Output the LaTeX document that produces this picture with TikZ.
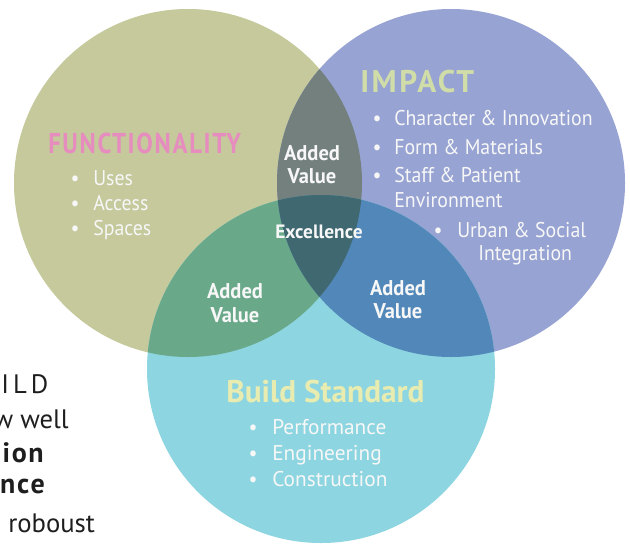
\documentclass[tikz,border=0pt]{standalone}
\usepackage{fontspec}
\setmainfont{PT Sans}
\newfontfamily\cond[FakeStretch=0.86]{PT Sans}
\newfontfamily\condb[FakeStretch=0.93]{PT Sans}
\newfontfamily\condc[FakeStretch=0.96]{PT Sans}
\definecolor{cL}{HTML}{C5C99C}
\definecolor{cR}{HTML}{97A3D2}
\definecolor{cB}{HTML}{8DD5E0}
\definecolor{cLR}{HTML}{73807E}
\definecolor{cLB}{HTML}{6AA88A}
\definecolor{cRB}{HTML}{5188B9}
\definecolor{cLRB}{HTML}{406870}
\definecolor{hPink}{HTML}{E68CBE}
\definecolor{hGreen}{HTML}{D0DDA8}
\definecolor{hYellow}{HTML}{E8ECB0}
\definecolor{txtW}{HTML}{F7F7F7}
\definecolor{side}{HTML}{1E1E1E}
\tikzset{
  item/.style={anchor=base west, inner sep=0pt, text=txtW, font=\condb\fontsize{16}{18}\selectfont},
  bul/.style={anchor=base, inner sep=0pt, text=txtW, font=\condb\fontsize{16}{18}\selectfont},
  head/.style={anchor=base west, inner sep=0pt, font=\bfseries\fontsize{23.5}{26}\selectfont},
  av/.style={anchor=base, inner sep=0pt, text=txtW, font=\condc\bfseries\fontsize{16}{18}\selectfont},
  sidetxt/.style={inner sep=0pt, text=side, font=\fontsize{20}{22}\selectfont},
  sidebold/.style={inner sep=0pt, text=side, font=\bfseries\fontsize{21}{24}\selectfont\addfontfeatures{LetterSpace=6}}
}
\begin{document}
\begin{tikzpicture}[x=0.75pt,y=-0.75pt]
\useasboundingbox (0,0) rectangle (630,543);
\clip (0,0) rectangle (630,543);
\fill[white] (0,0) rectangle (630,543);
% circles
\coordinate (CL) at (188,183);
\coordinate (CR) at (451,183);
\coordinate (CB) at (321,369);
\fill[cL] (CL) circle[radius=130.5pt];
\fill[cR] (CR) circle[radius=130.5pt];
\fill[cB] (CB) circle[radius=130.5pt];
\begin{scope}
  \clip (CL) circle[radius=130.5pt];
  \fill[cLR] (CR) circle[radius=130.5pt];
  \fill[cLB] (CB) circle[radius=130.5pt];
\end{scope}
\begin{scope}
  \clip (CR) circle[radius=130.5pt];
  \fill[cRB] (CB) circle[radius=130.5pt];
  \clip (CL) circle[radius=130.5pt];
  \fill[cLRB] (CB) circle[radius=130.5pt];
\end{scope}
% side text (cut off at the left, as in the source page)
\node[sidetxt, anchor=base west, font=\fontsize{20}{22}\selectfont\addfontfeatures{LetterSpace=15}] (s1) at (1,393) {ILD};
\node[sidetxt, anchor=base east] (s2) at (69,428) {w well};
\node[sidebold, anchor=base east] (s3) at (44,462) {ion};
\node[sidebold, anchor=base east] (s4) at (45,493) {nce};
\node[sidetxt, anchor=base west] (s5) at (8,532) {roboust};
% FUNCTIONALITY
\node[head, text=hPink, font=\cond\bfseries\fontsize{21.5}{24}\selectfont\addfontfeatures{LetterSpace=6}] (hF) at (48,153) {FUNCTIONALITY};
\node[bul] (bF1) at (75,185) {•}; \node[item] (F1) at (93,185) {Uses};
\node[bul] (bF2) at (75,210) {•}; \node[item] (F2) at (93,210) {Access};
\node[bul] (bF3) at (75,235) {•}; \node[item] (F3) at (93,235) {Spaces};
% IMPACT
\node[head, text=hGreen, font=\bfseries\fontsize{23.5}{26}\selectfont\addfontfeatures{LetterSpace=8}] (hI) at (360,92) {IMPACT};
\node[bul] (bI1) at (377,125) {•}; \node[item] (I1) at (394,125) {Character \& Innovation};
\node[bul] (bI2) at (377,154) {•}; \node[item] (I2) at (394,154) {Form \& Materials};
\node[bul] (bI3) at (377,182) {•}; \node[item] (I3) at (394,182) {Staff \& Patient};
\node[item] (I3b) at (394,207) {Environment};
\node[bul] (bI4) at (438,237) {•}; \node[item] (I4) at (457,237) {Urban \& Social};
\node[item] (I4b) at (478,260) {Integration};
% Build Standard
\node[head, text=hYellow] (hB) at (226,402) {Build Standard};
\node[bul] (bB1) at (253,434) {•}; \node[item, font=\fontsize{16}{18}\selectfont] (B1) at (272,434) {Performance};
\node[bul] (bB2) at (253,460) {•}; \node[item, font=\fontsize{16}{18}\selectfont] (B2) at (272,460) {Engineering};
\node[bul] (bB3) at (253,486) {•}; \node[item, font=\fontsize{16}{18}\selectfont] (B3) at (272,486) {Construction};
% overlaps
\node[av] (avT1) at (312,160) {Added};
\node[av] (avT2) at (312,183) {Value};
\node[av, font=\bfseries\fontsize{14.5}{17}\selectfont] (ex) at (319,238) {Excellence};
\node[av] (avL1) at (235,298) {Added};
\node[av] (avL2) at (235,322) {Value};
\node[av] (avR1) at (398,295) {Added};
\node[av] (avR2) at (398,318) {Value};
\end{tikzpicture}
\end{document}
